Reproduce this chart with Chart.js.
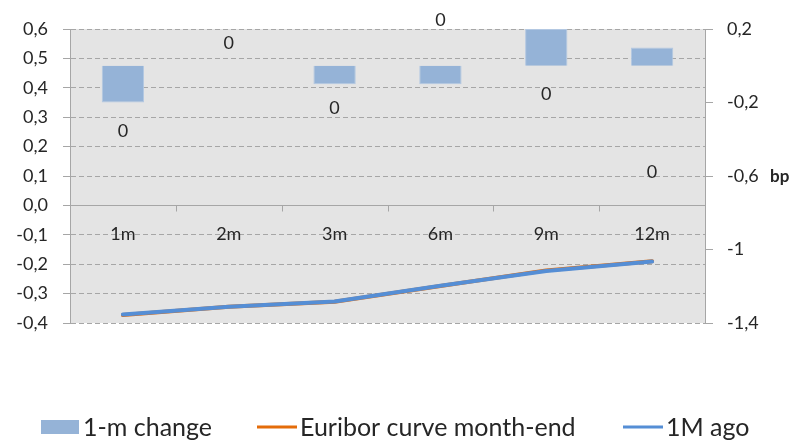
<!DOCTYPE html>
<html>
<head>
<meta charset="utf-8">
<script src="https://cdn.jsdelivr.net/npm/chart.js@4.4.1/dist/chart.umd.min.js"></script>
<style>
  html, body { margin: 0; padding: 0; background: #ffffff; }
  #wrap { width: 791px; height: 440px; }
</style>
</head>
<body>
<div id="wrap"><canvas id="c" width="791" height="440"></canvas></div>
<script>
// Euribor tenors and values (rates in %, change in bp)
const tenors = ['1m', '2m', '3m', '6m', '9m', '12m'];
const changeBp = [-0.2, 0, -0.1, -0.1, 0.2, 0.1];
const curveMonthEnd = [-0.373, -0.345, -0.328, -0.274, -0.221, -0.190];
const curveMonthAgo = [-0.371, -0.345, -0.327, -0.273, -0.223, -0.191];

// Axis ticks
const rateTicks = [-0.4, -0.3, -0.2, -0.1, 0, 0.1, 0.2, 0.3, 0.4, 0.5, 0.6];
const bpTicks = [-1.4, -1, -0.6, -0.2, 0.2];

const FONT = 'Lato, "Open Sans", sans-serif';
const TEXT = '#262626';
const GRID = '#a6a6a6';
const BAR = '#95b3d7';
const ORANGE = '#e46c0a';
const BLUE = '#558ed5';

const comma = (v, d) => (d === undefined ? String(Math.round(v * 10) / 10) : (Math.round(v * 10) / 10).toFixed(d)).replace('.', ',');

const decor = {
  id: 'decor',
  beforeDraw(chart, args, o) {
    const { ctx, chartArea: a } = chart;
    ctx.save();
    ctx.fillStyle = o.plotFill;
    ctx.fillRect(a.left, a.top, a.right - a.left, a.bottom - a.top);
    ctx.restore();
  },
  beforeDatasetsDraw(chart, args, o) {
    // solid horizontal axis at zero with small dividers between tenors
    const { ctx, chartArea: a, scales: { x, y } } = chart;
    const y0 = Math.round(y.getPixelForValue(0)) + 0.5;
    ctx.save();
    ctx.strokeStyle = GRID;
    ctx.lineWidth = 1;
    ctx.beginPath();
    ctx.moveTo(a.left - 7, y0);
    ctx.lineTo(a.right, y0);
    for (let i = 1; i < tenors.length; i++) {
      const bx = Math.round((x.getPixelForValue(i - 1) + x.getPixelForValue(i)) / 2) + 0.5;
      ctx.moveTo(bx, y0);
      ctx.lineTo(bx, y0 + 6);
    }
    ctx.stroke();
    ctx.restore();
  },
  afterDatasetsDraw(chart, args, o) {
    const { ctx, scales: { x, y } } = chart;
    const y0 = y.getPixelForValue(0);
    ctx.save();
    ctx.fillStyle = TEXT;
    ctx.font = '18px ' + FONT;
    ctx.textAlign = 'center';
    ctx.textBaseline = 'middle';
    tenors.forEach((t, i) => ctx.fillText(t, x.getPixelForValue(i), y0 + o.categoryGap));
    // value labels of the change bars
    const meta = chart.getDatasetMeta(0);
    meta.data.forEach((el, i) => {
      ctx.fillText(String(Math.round(changeBp[i])), el.x, el.y + o.labelShift[i]);
    });
    ctx.restore();
  },
  afterDraw(chart, args, o) {
    const { ctx, scales: { y1 } } = chart;
    ctx.save();
    ctx.fillStyle = TEXT;
    ctx.textBaseline = 'middle';
    ctx.textAlign = 'left';
    ctx.font = 'bold 17px ' + FONT;
    ctx.fillText('bp', o.unitX, y1.getPixelForValue(-0.6) + 1);

    // legend
    ctx.font = '25px ' + FONT;
    const cy = o.legendY;
    chart.data.datasets.forEach((ds, i) => {
      const lx = o.legendX[i];
      let tx;
      if (ds.type === 'bar') {
        ctx.fillStyle = ds.backgroundColor;
        ctx.fillRect(lx, cy - 7, 38, 14);
        tx = lx + 42;
      } else {
        ctx.strokeStyle = ds.borderColor;
        ctx.lineWidth = 3;
        ctx.beginPath();
        ctx.moveTo(lx, cy);
        ctx.lineTo(lx + 40, cy);
        ctx.stroke();
        tx = lx + 43;
      }
      ctx.fillStyle = TEXT;
      ctx.fillText(ds.label, tx, cy + 1);
    });
    ctx.restore();
  }
};

new Chart(document.getElementById('c'), {
  type: 'bar',
  data: {
    labels: tenors,
    datasets: [
      {
        type: 'bar',
        label: '1-m change',
        data: changeBp,
        yAxisID: 'y1',
        backgroundColor: BAR,
        borderColor: '#b3c8e2',
        borderWidth: 1,
        barPercentage: 0.4,
        categoryPercentage: 1,
        order: 3
      },
      {
        type: 'line',
        label: 'Euribor curve month-end',
        data: curveMonthEnd,
        yAxisID: 'y',
        borderColor: ORANGE,
        backgroundColor: ORANGE,
        borderWidth: 4,
        pointRadius: 0,
        tension: 0,
        borderCapStyle: 'round',
        borderJoinStyle: 'round',
        order: 2
      },
      {
        type: 'line',
        label: '1M ago',
        data: curveMonthAgo,
        yAxisID: 'y',
        borderColor: BLUE,
        backgroundColor: BLUE,
        borderWidth: 4,
        pointRadius: 0,
        tension: 0,
        borderCapStyle: 'round',
        borderJoinStyle: 'round',
        order: 1
      }
    ]
  },
  options: {
    responsive: false,
    devicePixelRatio: 1,
    animation: false,
    layout: { padding: { top: 29, bottom: 117, left: 0, right: 0 } },
    scales: {
      x: { type: 'category', display: false, offset: true },
      y: {
        position: 'left',
        min: rateTicks[0],
        max: rateTicks[rateTicks.length - 1],
        afterBuildTicks: s => { s.ticks = rateTicks.map(v => ({ value: v })); },
        afterFit: s => { s.width = 70; },
        ticks: {
          color: TEXT,
          font: { family: FONT, size: 18 },
          padding: 15,
          callback: v => comma(v, 1)
        },
        grid: { color: GRID, lineWidth: 1, tickLength: 7, tickColor: GRID, drawTicks: true },
        border: { display: true, color: GRID, width: 1, dash: [5, 3] }
      },
      y1: {
        position: 'right',
        min: bpTicks[0],
        max: bpTicks[bpTicks.length - 1],
        afterBuildTicks: s => { s.ticks = bpTicks.map(v => ({ value: v })); },
        afterFit: s => { s.width = 86; },
        ticks: {
          color: TEXT,
          font: { family: FONT, size: 18 },
          padding: 14,
          callback: v => comma(v)
        },
        grid: { drawOnChartArea: false, tickLength: 8, tickColor: GRID, color: GRID },
        border: { display: true, color: GRID, width: 1 }
      }
    },
    plugins: {
      legend: { display: false },
      tooltip: { enabled: false },
      decor: {
        plotFill: '#e4e4e4',
        categoryGap: 29,
        labelShift: [29, -23, 24, -64, 65, 125],
        unitX: 770,
        legendY: 427,
        legendX: [41, 257, 623]
      }
    }
  },
  plugins: [decor]
});
</script>
</body>
</html>
